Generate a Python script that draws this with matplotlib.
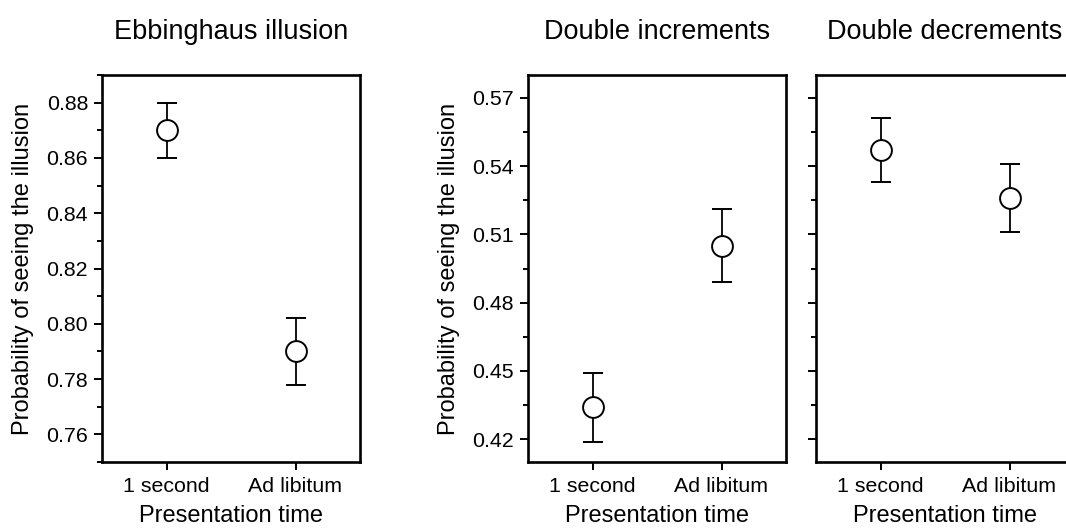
import matplotlib
matplotlib.use("Agg")
import matplotlib.pyplot as plt
from matplotlib.ticker import MultipleLocator, FormatStrFormatter

matplotlib.rcParams.update({
    "font.family": ["Liberation Sans", "DejaVu Sans"],
    "axes.linewidth": 1.9,
    "xtick.direction": "out",
    "ytick.direction": "out",
})

conditions = ["1 second", "Ad libitum"]

ebb_mean = [0.870, 0.790]
ebb_err = [0.010, 0.012]

inc_mean = [0.434, 0.505]
inc_err = [0.015, 0.016]

dec_mean = [0.547, 0.526]
dec_err = [0.014, 0.015]

titles = ["Ebbinghaus illusion", "Double increments", "Double decrements"]

W, H = 1066, 529
fig = plt.figure(figsize=(W / 100, H / 100), dpi=100)

def px_axes(x0, x1, y_top, y_bot):
    return fig.add_axes([x0 / W, (H - y_bot) / H, (x1 - x0) / W, (y_bot - y_top) / H])

ax1 = px_axes(102, 360, 75, 462)
ax2 = px_axes(528, 786, 75, 462)
ax3 = px_axes(816, 1074, 75, 462)

panels = [
    (ax1, ebb_mean, ebb_err, (0.75, 0.89), 0.02, "%.2f"),
    (ax2, inc_mean, inc_err, (0.41, 0.58), 0.03, "%.2f"),
    (ax3, dec_mean, dec_err, (0.41, 0.58), 0.03, "%.2f"),
]

for i, (ax, mean, err, ylim, step, fmt) in enumerate(panels):
    xs = list(range(len(conditions)))
    ax.errorbar(xs, mean, yerr=err, fmt="o", color="black",
                markerfacecolor="white", markeredgecolor="black",
                markersize=15, markeredgewidth=1.4,
                elinewidth=1.3, capsize=7.5, capthick=1.3, zorder=3)
    ax.set_xlim(-0.5, 1.5)
    ax.set_ylim(*ylim)
    ax.set_xticks(xs)
    ax.set_xticklabels(conditions)
    ax.yaxis.set_major_locator(MultipleLocator(step))
    ax.yaxis.set_minor_locator(MultipleLocator(step / 2))
    ax.yaxis.set_major_formatter(FormatStrFormatter(fmt))
    ax.tick_params(axis="both", which="major", length=5.5, width=1.4,
                   labelsize=15.4, pad=4.5)
    ax.tick_params(axis="x", pad=5.5)
    ax.tick_params(axis="y", which="minor", length=3.5, width=1.4)
    ax.tick_params(axis="x", which="minor", bottom=False)
    ax.set_xlabel("Presentation time", fontsize=17, labelpad=6)
    ax.set_title(titles[i], fontsize=19.5, pad=26)
    if i < 2:
        ax.set_ylabel("Probability of seeing the illusion", fontsize=17, labelpad=9)
    else:
        ax.tick_params(axis="y", labelleft=False)

fig.savefig("out.png", dpi=100)
